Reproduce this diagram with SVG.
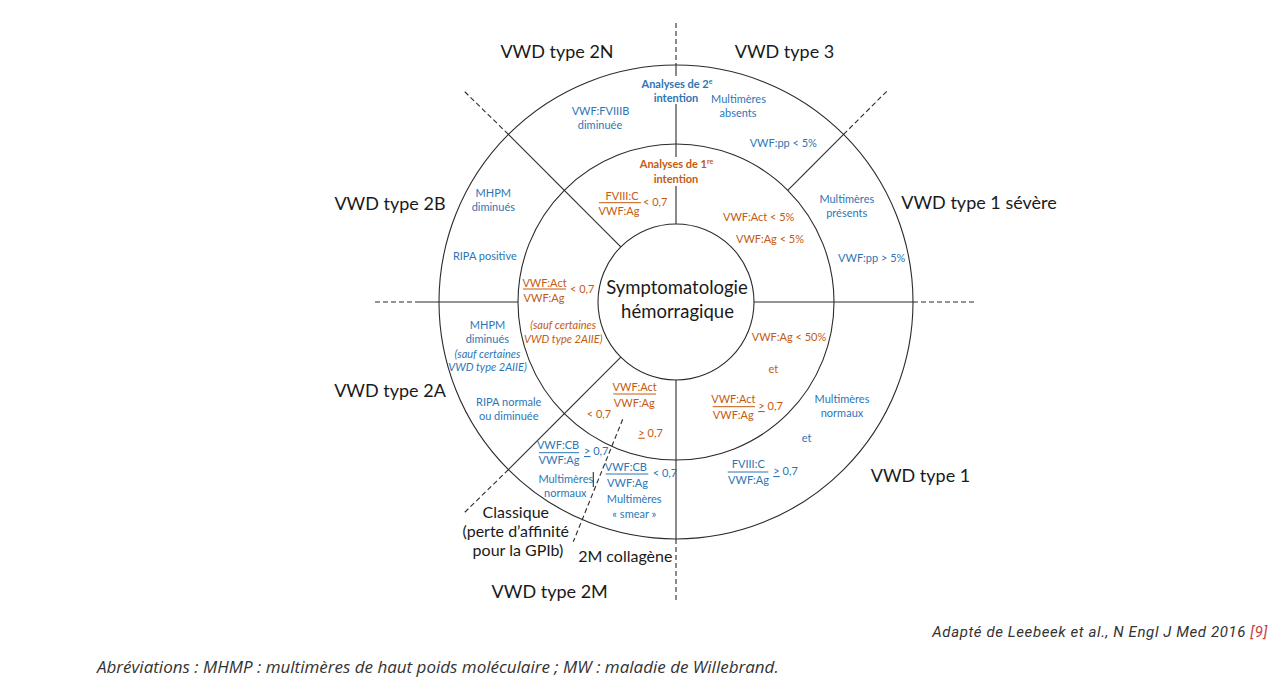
<svg xmlns="http://www.w3.org/2000/svg" width="1276" height="684" viewBox="0 0 1276 684">
<style>
text{font-family:Lato,"Open Sans","Liberation Sans",sans-serif}
.big{font-size:18px;fill:#1a1a1a;text-anchor:middle}
.mid{font-size:16px;fill:#1a1a1a;text-anchor:middle}
.b{font-size:11px;fill:#2E75B6;text-anchor:middle}
.o{font-size:11px;fill:#C55A11;text-anchor:middle}
.s{text-anchor:start}
.bold{font-weight:bold}
.it{font-style:italic}
.ring{fill:none;stroke:#2b2b2b;stroke-width:1.1}
.ln{stroke:#2b2b2b;stroke-width:1.1;fill:none}
.dash{stroke:#2b2b2b;stroke-width:1.1;stroke-dasharray:5 3;fill:none}
.fb{stroke:#2E75B6;stroke-width:1}
.fo{stroke:#C55A11;stroke-width:1}
.u{text-decoration:underline}
</style>
<rect width="1276" height="684" fill="#fff"/>
<g id="rings">
<circle class="ring" cx="676" cy="302" r="237"/>
<circle class="ring" cx="676" cy="302" r="158"/>
<circle class="ring" cx="676" cy="302" r="78"/>
</g>
<g id="connectors">
<line class="dash" x1="676" y1="23" x2="676" y2="65"/>
<line class="ln" x1="676" y1="65" x2="676" y2="224"/>
<line class="ln" x1="676" y1="380" x2="676" y2="539"/>
<line class="dash" x1="676" y1="539" x2="676" y2="602"/>
<line class="dash" x1="375" y1="302" x2="415" y2="302"/>
<line class="ln" x1="415" y1="302" x2="518" y2="302"/>
<line class="ln" x1="754" y1="302" x2="913" y2="302"/>
<line class="dash" x1="913" y1="302" x2="977" y2="302"/>
<line class="ln" x1="620.8" y1="246.8" x2="508.4" y2="134.4"/>
<line class="dash" x1="508.4" y1="134.4" x2="463" y2="90"/>
<line class="ln" x1="787.7" y1="190.3" x2="843.6" y2="134.4"/>
<line class="dash" x1="843.6" y1="134.4" x2="888" y2="90"/>
<line class="ln" x1="620.8" y1="357.2" x2="508.4" y2="469.6"/>
<line class="dash" x1="508.4" y1="469.6" x2="463" y2="514"/>
<line class="dash" x1="622.7" y1="419.3" x2="573.3" y2="541.7"/>
<line class="ln" x1="593.3" y1="472" x2="593.3" y2="487"/>
</g>
<g id="center">
<text class="big" style="font-size:18.5px" x="677" y="294">Symptomatologie</text>
<text class="big" style="font-size:18.5px" x="677.5" y="317.5">hémorragique</text>
</g>
<g id="intention-labels">
<rect x="637" y="76" width="80" height="28" fill="#fff"/>
<text class="b bold" x="677" y="87.7">Analyses de 2<tspan dy="-4" font-size="7">e</tspan></text>
<text class="b bold" x="676" y="101.7">intention</text>
<rect x="637" y="157" width="80" height="29" fill="#fff"/>
<text class="o bold" x="676.5" y="168.3">Analyses de 1<tspan dy="-4" font-size="7">re</tspan></text>
<text class="o bold" x="676" y="182.7">intention</text>
</g>
<g id="type-2N">
<text class="big" x="557" y="58">VWD type 2N</text>
<text class="b" x="600.5" y="115">VWF:FVIIIB</text>
<text class="b" x="600" y="129">diminuée</text>
<text class="o" x="622" y="200">FVIII:C</text>
<line class="fo" x1="599" y1="202.7" x2="641" y2="202.7"/>
<text class="o" x="619" y="215">VWF:Ag</text>
<text class="o s" x="643" y="205.7">&lt; 0,7</text>
</g>
<g id="type-3">
<text class="big" x="784.5" y="58">VWD type 3</text>
<text class="b" x="738.5" y="102.7">Multimères</text>
<text class="b" x="738" y="116.7">absents</text>
<text class="b" x="783.3" y="146.7">VWF:pp &lt; 5%</text>
<text class="o" x="758.7" y="220.7">VWF:Act &lt; 5%</text>
<text class="o" x="770" y="242.7">VWF:Ag &lt; 5%</text>
</g>
<g id="type-1-severe">
<text class="big" x="979" y="208.5">VWD type 1 sévère</text>
<text class="b" x="846.8" y="202.7">Multimères</text>
<text class="b" x="846.7" y="216.7">présents</text>
<text class="b" x="871.7" y="261.7">VWF:pp &gt; 5%</text>
</g>
<g id="type-2B">
<text class="big" x="390" y="210">VWD type 2B</text>
<text class="b" x="493.3" y="197.3">MHPM</text>
<text class="b" x="493.3" y="211">diminués</text>
<text class="b" x="484.8" y="260">RIPA positive</text>
<text class="o" x="544.5" y="286.7">VWF:Act</text>
<line class="fo" x1="523" y1="289" x2="566" y2="289"/>
<text class="o" x="544" y="301.5">VWF:Ag</text>
<text class="o s" x="570" y="292.7">&lt; 0,7</text>
</g>
<g id="type-2A">
<text class="big" x="390" y="397">VWD type 2A</text>
<text class="b" x="487.5" y="329.3">MHPM</text>
<text class="b" x="487.3" y="343.3">diminués</text>
<text class="b it" x="487.5" y="357.7">(sauf certaines</text>
<text class="b it" x="487.5" y="370.7">VWD type 2AIIE)</text>
<text class="b" x="508.7" y="405.7">RIPA normale</text>
<text class="b" x="508.7" y="420">ou diminuée</text>
<text class="o it" x="563.2" y="329.3">(sauf certaines</text>
<text class="o it" x="563.3" y="343.3">VWD type 2AIIE)</text>
</g>
<g id="type-1">
<text class="big" x="920.5" y="481.5">VWD type 1</text>
<text class="o" x="789" y="340.7">VWF:Ag &lt; 50%</text>
<text class="o" x="773.3" y="373.3">et</text>
<text class="o" x="733.3" y="403.3">VWF:Act</text>
<line class="fo" x1="712.7" y1="406.7" x2="755" y2="406.7"/>
<text class="o" x="733.3" y="419">VWF:Ag</text>
<text class="o s" x="758.3" y="410"><tspan class="u">&gt;</tspan> 0,7</text>
<text class="b" x="842" y="403.3">Multimères</text>
<text class="b" x="842" y="417.3">normaux</text>
<text class="b" x="806.7" y="441.7">et</text>
<text class="b" x="748.3" y="467.7">FVIII:C</text>
<line class="fb" x1="727.7" y1="472" x2="768.3" y2="472"/>
<text class="b" x="748.5" y="484">VWF:Ag</text>
<text class="b s" x="773.3" y="475"><tspan class="u">&gt;</tspan> 0,7</text>
</g>
<g id="type-2M">
<text class="big" x="549.7" y="598">VWD type 2M</text>
<text class="o" x="634.7" y="391">VWF:Act</text>
<line class="fo" x1="613.3" y1="394" x2="656" y2="394"/>
<text class="o" x="634.3" y="406.7">VWF:Ag</text>
<text class="o s" x="586.7" y="418.3">&lt; 0,7</text>
<text class="o s" x="638.3" y="436.7"><tspan class="u">&gt;</tspan> 0,7</text>
<text class="b" x="558" y="449">VWF:CB</text>
<line class="fb" x1="539" y1="452.7" x2="579" y2="452.7"/>
<text class="b" x="559" y="464">VWF:Ag</text>
<text class="b s" x="584" y="455"><tspan class="u">&gt;</tspan> 0,7</text>
<text class="b" x="565.8" y="482.7">Multimères</text>
<text class="b" x="565.3" y="496.7">normaux</text>
<text class="b" x="625.8" y="471">VWF:CB</text>
<line class="fb" x1="605.7" y1="474" x2="648.3" y2="474"/>
<text class="b" x="627.5" y="486.7">VWF:Ag</text>
<text class="b s" x="652.7" y="476.7">&lt; 0,7</text>
<text class="b" x="634.2" y="503.3">Multimères</text>
<text class="b" x="634.3" y="517.7">« smear »</text>
<text class="mid" x="515.8" y="517.7">Classique</text>
<text class="mid" x="515.8" y="536.7">(perte d’affinité</text>
<text class="mid" x="518" y="555.7">pour la GPIb)</text>
<text class="mid" x="625.3" y="561.7">2M collagène</text>
</g>
<g id="footer">
<text x="1268" y="637" style="font-family:Roboto,'Liberation Sans',sans-serif;font-size:15px;letter-spacing:0.6px;font-style:italic;fill:#333;text-anchor:end">Adapté de Leebeek et al., N Engl J Med 2016 <tspan fill="#C8414B">[9]</tspan></text>
<text x="97" y="673" style="font-family:'Open Sans','Liberation Sans',sans-serif;font-size:17px;font-style:italic;fill:#333">Abréviations : MHMP : multimères de haut poids moléculaire ; MW : maladie de Willebrand.</text>
</g>
</svg>
